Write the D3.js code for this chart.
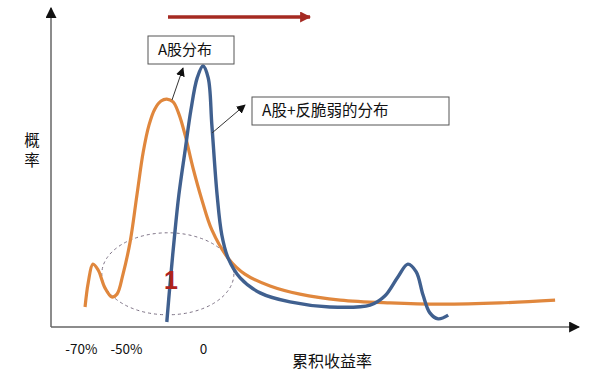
<!DOCTYPE html>
<meta charset="utf-8">
<style>
  body { margin: 0; background: #fff; }
  text { font-family: "Noto Sans CJK SC", "Noto Sans", sans-serif; }
</style>
<body>
<script src="https://d3js.org/d3.v7.min.js"></script>
<script>

// conceptual chart: x = position along return axis (0-100), y = probability (0-100)
const orangeX = [6.5, 7.1, 8.0, 9.0, 10.3, 11.6, 12.6, 13.7, 15.1, 16.4, 17.6, 18.7, 19.8, 21.0, 22.1, 23.3, 24.4, 25.6, 27.1, 28.8, 30.7, 33.8, 37.0, 41.8, 47.5, 55.2, 64.7, 74.2, 85.7, 96.2];
const orangeY = [6.4, 14.1, 20.1, 18.2, 12.5, 9.6, 10.5, 16.6, 27.2, 42.2, 55.9, 64.5, 69.6, 72.2, 72.8, 71.9, 68.1, 61.3, 50.8, 40.6, 31.0, 22.0, 16.9, 13.1, 10.5, 8.6, 7.7, 7.3, 7.7, 8.6];

const blueX = [22.1, 22.7, 23.5, 24.4, 25.6, 26.7, 27.9, 29.0, 30.0, 30.7, 31.7, 32.6, 33.8, 36.1, 39.9, 45.6, 53.2, 60.9, 63.7, 66.2, 68.1, 69.7, 71.0, 72.3, 73.9, 75.8];
const blueY = [1.6, 13.4, 27.8, 42.2, 56.5, 69.3, 79.6, 83.4, 79.6, 64.5, 42.2, 29.4, 22.0, 15.7, 10.9, 8.0, 6.4, 7.0, 9.9, 16.0, 20.1, 17.6, 10.2, 4.5, 2.6, 3.8];

const tickPos = [5.7, 14.3, 29.0];
const tickLabels = ["-70%", "-50%", "0"];

const W = 600, H = 386;
const x = d3.scaleLinear().domain([0, 100]).range([51, 575]);
const y = d3.scaleLinear().domain([0, 100]).range([327, 14]);

const svg = d3.select("body").append("svg")
    .attr("width", W)
    .attr("height", H);

const defs = svg.append("defs");
function marker(id, color, size) {
  defs.append("marker")
      .attr("id", id)
      .attr("viewBox", "0 0 10 10")
      .attr("refX", 9).attr("refY", 5)
      .attr("markerWidth", size).attr("markerHeight", size)
      .attr("markerUnits", "userSpaceOnUse")
      .attr("orient", "auto")
    .append("path")
      .attr("d", "M0,0 L10,5 L0,10 Z")
      .attr("fill", color);
}
marker("ax", "#111", 11);
marker("ann", "#111", 9);
marker("red", "#a52a22", 11);

// axes
svg.append("line")
    .attr("x1", x(0)).attr("y1", y(0))
    .attr("x2", x(0)).attr("y2", 8)
    .attr("stroke", "#666").attr("stroke-width", 1.5)
    .attr("marker-end", "url(#ax)");
svg.append("line")
    .attr("x1", x(0)).attr("y1", y(0))
    .attr("x2", 579).attr("y2", y(0))
    .attr("stroke", "#666").attr("stroke-width", 1.5)
    .attr("marker-end", "url(#ax)");

const xAxis = d3.axisBottom(x)
    .tickValues(tickPos)
    .tickSize(0)
    .tickPadding(17)
    .tickFormat((d, i) => tickLabels[i]);

svg.append("g")
    .attr("transform", `translate(0,${y(0)})`)
    .call(xAxis)
    .call(g => g.select(".domain").remove())
    .selectAll("text")
      .style("font-size", "13.5px")
      .style("font-family", "\"Noto Sans CJK SC\", sans-serif")
      .attr("fill", "#111");

// axis labels
svg.append("text")
    .attr("x", 332).attr("y", 367)
    .attr("text-anchor", "middle")
    .style("font-size", "16px")
    .attr("fill", "#111")
    .text("累积收益率");

svg.selectAll(".ylab")
  .data(["概", "率"])
  .join("text")
    .attr("class", "ylab")
    .attr("x", 32)
    .attr("y", (d, i) => 146 + i * 20)
    .attr("text-anchor", "middle")
    .style("font-size", "15.5px")
    .attr("fill", "#111")
    .text(d => d);

// dashed ellipse
svg.append("ellipse")
    .attr("cx", x(22.3)).attr("cy", y(17.0))
    .attr("rx", x(12.6) - x(0)).attr("ry", y(0) - y(13.1))
    .attr("fill", "none")
    .attr("stroke", "#7d7285")
    .attr("stroke-width", 1)
    .attr("stroke-dasharray", "3,3");

// curves
const line = d3.line()
    .x(d => x(d[0]))
    .y(d => y(d[1]))
    .curve(d3.curveCatmullRom.alpha(0.5));

svg.append("path")
    .datum(d3.zip(orangeX, orangeY))
    .attr("d", line)
    .attr("fill", "none")
    .attr("stroke", "#e0873d")
    .attr("stroke-width", 3.2);

svg.append("path")
    .datum(d3.zip(blueX, blueY))
    .attr("d", line)
    .attr("fill", "none")
    .attr("stroke", "#40608f")
    .attr("stroke-width", 3.4);

// "1" marker
svg.append("text")
    .attr("x", x(22.9)).attr("y", y(15) + 9)
    .attr("text-anchor", "middle")
    .style("font-size", "25px")
    .style("font-weight", "bold")
    .style("font-family", "\"Liberation Sans\", sans-serif")
    .attr("fill", "#b0221c")
    .text("1");

// red arrow at the top
svg.append("line")
    .attr("x1", 168).attr("y1", 17)
    .attr("x2", 310).attr("y2", 17)
    .attr("stroke", "#a52a22").attr("stroke-width", 3.5)
    .attr("marker-end", "url(#red)");

// annotation boxes
function box(x0, y0, w, h, label, fs) {
  svg.append("rect")
      .attr("x", x0).attr("y", y0)
      .attr("width", w).attr("height", h)
      .attr("fill", "#fff")
      .attr("stroke", "#555").attr("stroke-width", 1);
  svg.append("text")
      .attr("x", x0 + 10).attr("y", y0 + h / 2 + 5)
      .style("font-size", fs + "px")
      .attr("fill", "#111")
      .text(label);
}
box(148, 36, 86, 28, "A股分布", 15);
box(252, 97, 197, 28, "A股+反脆弱的分布", 15.5);

// leader arrows
svg.append("line")
    .attr("x1", 172).attr("y1", 100)
    .attr("x2", 183).attr("y2", 68)
    .attr("stroke", "#333").attr("stroke-width", 1)
    .attr("marker-end", "url(#ann)");
svg.append("line")
    .attr("x1", 212).attr("y1", 133)
    .attr("x2", 245).attr("y2", 105)
    .attr("stroke", "#333").attr("stroke-width", 1)
    .attr("marker-end", "url(#ann)");

</script>
</body>
